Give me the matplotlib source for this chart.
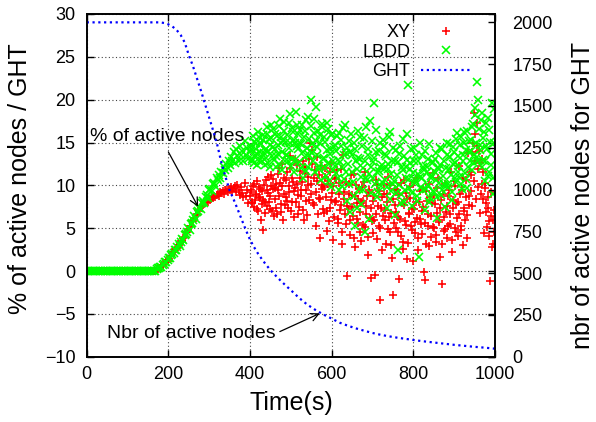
import numpy as np
import matplotlib
matplotlib.use("Agg")
import matplotlib.pyplot as plt

plt.rcParams['font.family'] = ['Liberation Sans', 'DejaVu Sans']

# ---------------- data ----------------
# time steps of the scatter series (s)
flat_t = np.arange(0, 172, 4)        # 0 .. 168
ramp_t = np.arange(171, 398, 3)      # 171 .. 396
cloud_t = np.arange(400, 1000, 3)    # 400 .. 997
cloud2_t = np.arange(401.5, 1000, 3) # 401.5 .. 998.5

xy_flat = [0, 0, 0, 0, 0, 0, 0, 0, 0, 0,
           0, 0, 0, 0, 0, 0, 0, 0, 0, 0,
           0, 0, 0, 0, 0, 0, 0, 0, 0, 0,
           0, 0, 0, 0, 0, 0, 0, 0, 0, 0,
           0, 0, 0]
lbdd_flat = [0, 0, 0, 0, 0, 0, 0, 0, 0, 0,
             0, 0, 0, 0, 0, 0, 0, 0, 0, 0,
             0, 0, 0, 0, 0, 0, 0, 0, 0, 0,
             0, 0, 0, 0, 0, 0, 0, 0, 0, 0,
             0, 0, 0]

xy_ramp = [0.1, 0.2, 0.4, 0.4, 0.6, 0.6, 0.9, 0.9, 1.2, 1.2,
           1.4, 1.7, 1.8, 2.2, 2.2, 2.4, 2.7, 2.7, 3.0, 3.2,
           3.5, 3.5, 3.9, 4.0, 4.5, 4.5, 4.8, 5.2, 5.3, 5.8,
           5.8, 6.2, 6.5, 6.6, 7.1, 7.0, 7.5, 7.6, 7.7, 8.0,
           8.0, 8.2, 8.1, 8.4, 8.3, 8.6, 8.5, 8.8, 8.6, 8.9,
           9.0, 8.8, 9.2, 9.1, 9.3, 9.0, 9.4, 9.5, 9.2, 9.6,
           9.5, 9.8, 9.3, 9.7, 9.9, 9.2, 10.0, 9.4, 8.9, 9.8,
           9.1, 8.6, 10.3, 8.8, 9.5, 7.9]
lbdd_ramp = [0.2, 0.3, 0.3, 0.5, 0.5, 0.7, 0.8, 1.0, 1.1, 1.3,
             1.5, 1.5, 1.9, 2.0, 2.1, 2.5, 2.4, 2.8, 3.1, 2.9,
             3.4, 3.7, 3.6, 4.2, 4.3, 4.6, 5.0, 4.8, 5.5, 5.6,
             6.0, 6.4, 6.1, 6.9, 7.0, 7.4, 7.2, 7.9, 8.2, 7.9,
             8.6, 8.9, 8.5, 9.4, 9.6, 9.3, 10.1, 10.3, 9.9, 10.8,
             10.6, 11.2, 10.9, 11.6, 11.4, 12.1, 11.8, 12.5, 12.0, 12.9,
             12.4, 13.3, 12.8, 13.9, 12.6, 14.2, 13.4, 12.9, 14.6, 13.6,
             14.0, 12.8, 15.2, 13.5, 14.4, 13.1]

xy_cloud = [8.7, 9.4, 7.9, 10.2, 8.3, 9.0, 7.2, 9.8, 8.5, 6.0,
            9.3, 4.8, 8.1, 10.6, 7.6, 9.1, 8.8, 11.2, 7.0, 9.6,
            8.4, 10.1, 6.6, 9.5, 12.0, 7.8, 9.9, 5.9, 10.8, 8.6,
            11.5, 7.3, 9.2, 13.4, 8.0, 10.4, 6.3, 9.7, 12.4, 8.9,
            7.5, 10.9, 9.4, 12.8, 6.0, 11.4, 8.2, 10.0, 13.1, 15.0,
            9.0, 14.1, 7.7, 11.8, 5.2, 10.5, 8.5, 3.8, 12.3, 9.6,
            6.8, 11.0, 8.6, 4.7, 10.2, 7.4, 12.6, 9.1, 3.6, 8.0,
            10.7, 11.8, 6.1, 9.0, 7.7, 3.1, 13.5, 8.4, 5.5, -0.6,
            7.2, 10.1, 4.2, 8.9, 6.4, 11.3, 2.8, 7.9, 5.6, 9.6,
            6.9, 3.5, 8.2, 10.4, 5.1, 7.6, 1.9, 9.2, 6.2, -0.8,
            4.4, 8.7, -0.5, 6.7, 10.0, 5.3, -3.4, 7.3, 2.5, 9.0,
            5.9, 3.2, 8.1, 11.0, 4.5, 6.8, 1.5, -2.8, 7.7, 5.0,
            9.5, 6.3, -0.9, 4.1, 7.9, 2.6, 10.6, 5.4, 8.4, 3.3,
            6.6, 9.8, 4.8, 1.2, 7.2, 5.7, 10.9, 3.8, 8.0, 6.1,
            4.3, 7.5, -0.1, -1.1, 9.3, 5.2, 2.9, 8.6, 6.4, 11.4,
            5.0, 7.8, 3.4, 9.7, 6.0, 1.6, 8.3, -1.5, 4.7, 10.2,
            6.9, 3.9, 8.8, 5.5, 11.6, 2.2, 7.4, 9.9, 4.6, 6.2,
            8.1, 12.3, 5.3, 9.4, 3.0, 7.0, 10.6, 6.5, 13.8, 8.7,
            11.2, 7.6, 15.0, 18.4, 12.9, 17.3, 9.8, 14.0, 6.8, 13.1,
            11.5, 4.4, 9.7, 7.9, 8.6, 5.8, -1.2, 6.4, 3.2, 7.1]
xy_cloud2 = [9.2, 8.1, 9.9, 7.5, 8.9, 10.5, 7.0, 8.6, 9.6, 7.8,
             8.3, 10.0, 6.8, 9.4, 11.0, 8.0, 7.2, 9.9, 10.7, 6.4,
             9.7, 7.4, 11.3, 8.8, 10.3, 6.9, 12.5, 9.0, 7.7, 10.6,
             8.2, 9.9, 12.0, 7.0, 10.9, 9.3, 13.0, 8.1, 10.2, 6.7,
             11.7, 8.7, 10.4, 7.1, 12.2, 9.5, 6.5, 11.0, 8.3, 10.1,
             12.5, 7.9, 10.8, 9.2, 13.3, 6.6, 11.2, 8.4, 10.0, 7.2,
             9.8, 12.0, 7.0, 10.5, 5.8, 11.6, 8.3, 9.9, 6.3, 10.9,
             8.2, 5.6, 10.3, 7.1, 11.9, 4.6, 9.2, 6.6, 10.4, 7.6,
             9.0, 5.9, 11.2, 7.5, 3.9, 8.8, 10.0, 6.1, 8.4, 4.5,
             7.9, 9.8, 5.4, 11.5, 6.6, 8.7, 4.0, 9.5, 7.3, 5.8,
             8.2, 6.0, 10.6, 3.7, 7.6, 9.3, 5.0, 8.6, 6.4, 10.2,
             7.1, 9.0, 4.9, 6.3, 10.0, 3.0, 8.4, 5.6, 9.6, 6.9,
             4.6, 8.9, 6.1, 10.3, 3.4, 7.7, 5.8, 9.1, 1.4, 6.8,
             8.5, 5.3, 7.3, 10.4, 4.4, 8.1, 6.2, 2.5, 9.3, 5.5,
             7.0, 9.6, 5.6, 3.1, 8.2, 6.7, 10.2, 4.0, 7.9, 5.1,
             8.9, 4.2, 6.8, 10.8, 5.7, 7.4, 3.2, 9.0, 6.3, 4.9,
             7.6, 5.2, 9.5, 6.6, 3.6, 8.3, 10.5, 5.0, 7.8, 4.1,
             6.7, 9.0, 4.8, 10.9, 7.3, 5.9, 8.6, 3.9, 7.7, 11.5,
             9.3, 13.9, 10.5, 16.0, 8.4, 14.6, 11.9, 12.6, 9.0, 10.1,
             8.4, 10.3, 6.9, 5.1, 7.3, 4.1, 9.2, 2.8, 6.0, 4.6]
lbdd_cloud = [13.9, 14.6, 12.8, 15.1, 13.5, 14.2, 12.4, 15.6, 13.9, 14.8,
              12.9, 15.3, 14.1, 13.2, 16.0, 12.6, 14.7, 15.5, 13.4, 16.6,
              14.3, 12.1, 15.8, 13.7, 16.9, 14.9, 11.8, 15.2, 17.4, 13.6,
              15.9, 12.9, 14.4, 18.3, 13.1, 16.2, 11.5, 15.0, 17.0, 14.2,
              12.7, 16.5, 14.8, 10.9, 15.7, 13.3, 17.6, 12.2, 15.4, 14.0,
              20.0, 13.8, 16.1, 11.6, 19.2, 14.5, 12.3, 15.9, 10.6, 16.8,
              13.2, 15.1, 11.1, 17.3, 12.6, 14.3, 9.8, 16.0, 12.9, 14.7,
              11.4, 15.8, 13.0, 9.4, 14.6, 12.2, 16.7, 10.7, 13.8, 8.2,
              12.5, 15.2, 6.9, 13.6, 10.4, 14.9, 5.2, 11.9, 16.3, 9.6,
              13.1, 7.8, 12.0, 15.5, 4.6, 10.8, 14.2, 11.3, 17.5, 9.1,
              12.7, 19.6, 10.2, 13.9, 8.6, 11.7, 15.0, 9.9, 12.4, 14.6,
              10.6, 13.4, 7.4, 11.9, 16.2, 9.3, 12.8, 10.1, 6.5, 14.1,
              11.2, 2.5, 13.7, 9.0, 12.1, 15.4, 8.1, 10.9, 13.0, 21.7,
              9.7, 12.6, 7.6, 11.4, 14.4, 10.3, 8.8, 12.9, 1.6, 11.0,
              13.5, 9.4, 11.8, 7.1, 12.3, 10.0, 14.8, 8.5, 11.1, 12.7,
              9.2, 13.1, 10.6, 6.2, 11.9, 12.4, 8.9, 14.2, 10.2, 7.5,
              12.0, 15.0, 9.8, 13.3, 11.2, 8.3, 14.5, 12.6, 10.4, 16.1,
              13.4, 11.0, 15.6, 9.6, 12.8, 14.9, 10.7, 16.4, 12.2, 13.9,
              15.3, 11.8, 17.2, 13.5, 19.0, 22.1, 12.9, 16.6, 14.1, 18.4,
              13.0, 16.2, 10.5, 14.6, 17.9, 11.6, 15.1, 12.4, 9.0, 18.9]
lbdd_cloud2 = [14.3, 13.1, 15.8, 12.6, 14.9, 13.7, 16.2, 12.9, 15.0, 13.3,
               15.9, 13.8, 12.4, 16.8, 14.0, 15.4, 12.2, 17.1, 14.5, 13.0,
               16.0, 13.4, 14.7, 12.5, 17.8, 15.6, 13.9, 16.4, 12.8, 15.1,
               13.6, 17.3, 14.9, 12.3, 16.7, 15.3, 13.0, 18.6, 14.6, 16.0,
               15.0, 12.0, 17.0, 13.9, 16.3, 11.7, 14.4, 18.0, 13.5, 16.9,
               14.8, 12.9, 17.7, 15.2, 13.6, 16.4, 11.9, 14.9, 17.2, 13.1,
               15.6, 12.0, 14.1, 16.6, 10.5, 13.7, 15.9, 11.8, 14.5, 12.3,
               14.0, 10.9, 16.1, 12.7, 15.3, 9.9, 13.6, 17.0, 11.5, 14.4,
               10.2, 13.9, 16.0, 11.6, 8.7, 14.3, 12.8, 7.3, 13.2, 15.6,
               11.0, 14.6, 9.4, 12.9, 16.8, 10.6, 13.5, 6.1, 12.2, 15.2,
               10.9, 13.2, 16.5, 11.5, 9.2, 14.0, 12.1, 10.4, 15.3, 11.9,
               13.7, 9.8, 12.5, 15.6, 8.4, 11.3, 14.4, 10.5, 12.9, 9.1,
               12.7, 10.0, 14.6, 7.9, 11.8, 13.4, 9.5, 12.2, 16.0, 10.7,
               11.9, 14.3, 9.1, 12.8, 10.6, 13.6, 8.2, 11.3, 14.9, 9.8,
               10.8, 12.2, 14.0, 9.6, 11.5, 13.1, 8.0, 10.9, 12.6, 9.3,
               11.7, 13.8, 8.6, 12.0, 10.3, 14.4, 9.5, 11.1, 12.9, 10.0,
               13.6, 10.1, 11.9, 14.8, 9.2, 12.5, 13.9, 10.8, 15.4, 11.6,
               12.3, 14.7, 10.2, 13.6, 16.2, 11.4, 14.1, 9.7, 15.2, 12.8,
               14.0, 16.8, 12.6, 18.2, 15.0, 13.3, 20.0, 14.7, 17.6, 12.1,
               15.5, 12.9, 17.3, 14.2, 11.1, 16.5, 13.7, 19.6, 10.8, 14.9]

ght_t = [0, 50, 100, 150, 180, 190, 200, 210, 220, 230, 240, 250, 260, 270,
         280, 290, 300, 310, 320, 330, 340, 350, 360, 370, 380, 390, 400,
         410, 420, 430, 440, 450, 460, 470, 480, 490, 500, 520, 540, 560,
         580, 600, 620, 640, 660, 680, 700, 720, 740, 760, 780, 800, 825,
         850, 875, 900, 925, 950, 975, 1000]
ght_v = [2000, 2000, 2000, 2000, 2000, 1996, 1988, 1975, 1955, 1925, 1880,
         1805, 1740, 1665, 1590, 1510, 1430, 1350, 1265, 1160, 1075, 995,
         940, 880, 818, 757, 700, 655, 615, 580, 548, 518, 492, 467, 443,
         420, 398, 352, 312, 280, 252, 228, 203, 185, 169, 155, 142, 131,
         122, 114, 107, 100, 92, 85, 78, 71, 65, 59, 54, 48]

x_ticks = [0, 200, 400, 600, 800, 1000]
y1_ticks = [-10, -5, 0, 5, 10, 15, 20, 25, 30]
y2_ticks = [0, 250, 500, 750, 1000, 1250, 1500, 1750, 2000]

# ---------------- figure ----------------
W, H = 596, 422
fig = plt.figure(figsize=(W / 100, H / 100), dpi=100)
L, R, T, B = 86.7, 495.0, 14.0, 356.7
ax = fig.add_axes([L / W, 1 - B / H, (R - L) / W, (B - T) / H])
ax2 = ax.twinx()

all_t = np.concatenate([flat_t, ramp_t, cloud_t, cloud2_t])
xy_y = np.concatenate([xy_flat, xy_ramp, xy_cloud, xy_cloud2])
lb_y = np.concatenate([lbdd_flat, lbdd_ramp, lbdd_cloud, lbdd_cloud2])

h_xy, = ax.plot(all_t, xy_y, linestyle='none', marker='+', color='#ff0000',
                markersize=6.0, markeredgewidth=1.15, label='XY')
h_lb, = ax.plot(all_t, lb_y, linestyle='none', marker='x', color='#00ff00',
                markersize=5.2, markeredgewidth=1.15, label='LBDD')
h_ght, = ax2.plot(ght_t, ght_v, color='#0000ff', linewidth=1.6,
                  linestyle=(0, (1, 1.6)), label='GHT')

ax.set_xlim(0, 1000)
ax.set_ylim(-10, 30)
ax2.set_ylim(0, 2050)
ax.set_xticks(x_ticks)
ax.set_yticks(y1_ticks)
ax2.set_yticks(y2_ticks)

ax.grid(True, color='#444444', linestyle=(0, (1, 2.2)), linewidth=0.8)
ax.set_axisbelow(True)

for a in (ax, ax2):
    for s in a.spines.values():
        s.set_linewidth(1.2)
ax.tick_params(axis='both', direction='in', length=5, width=1.0,
               labelsize=13, top=True, right=True, labelright=False)
ax.tick_params(axis='y', pad=8)
ax.tick_params(axis='x', pad=7)
ax2.tick_params(axis='y', direction='in', length=5, width=1.0,
                labelsize=13, pad=12.5)

fs_lab = 18
fig.text(20 / W, 1 - 179 / H, '% of active nodes / GHT', rotation=90,
         ha='center', va='center', fontsize=fs_lab)
fig.text(583 / W, 1 - 195 / H, 'nbr of active nodes for GHT', rotation=90,
         ha='center', va='center', fontsize=fs_lab)
fig.text(291 / W, 1 - 410 / H, 'Time(s)', ha='center', va='baseline',
         fontsize=fs_lab)

# annotations
ax.text(8, 15.2, '% of active nodes', fontsize=14, va='baseline', ha='left')
ax.annotate('', xy=(273, 7.5), xytext=(200, 13.9),
            arrowprops=dict(arrowstyle='->', color='black', lw=0.9,
                            mutation_scale=14, shrinkA=0, shrinkB=0))
ax.text(50, -7.8, 'Nbr of active nodes', fontsize=14, va='baseline', ha='left')
ax.annotate('', xy=(571, -4.94), xytext=(473, -7.07),
            arrowprops=dict(arrowstyle='->', color='black', lw=0.9,
                            mutation_scale=14, shrinkA=0, shrinkB=0))

leg = ax2.legend(handles=[h_xy, h_lb, h_ght], loc='upper right',
                 bbox_to_anchor=(470 / W, 1 - 24 / H),
                 bbox_transform=fig.transFigure, frameon=False,
                 markerfirst=False, fontsize=13, handlelength=2.7,
                 handletextpad=0.6, labelspacing=0.14, borderpad=0,
                 borderaxespad=0)

fig.savefig('out.png', dpi=100)
